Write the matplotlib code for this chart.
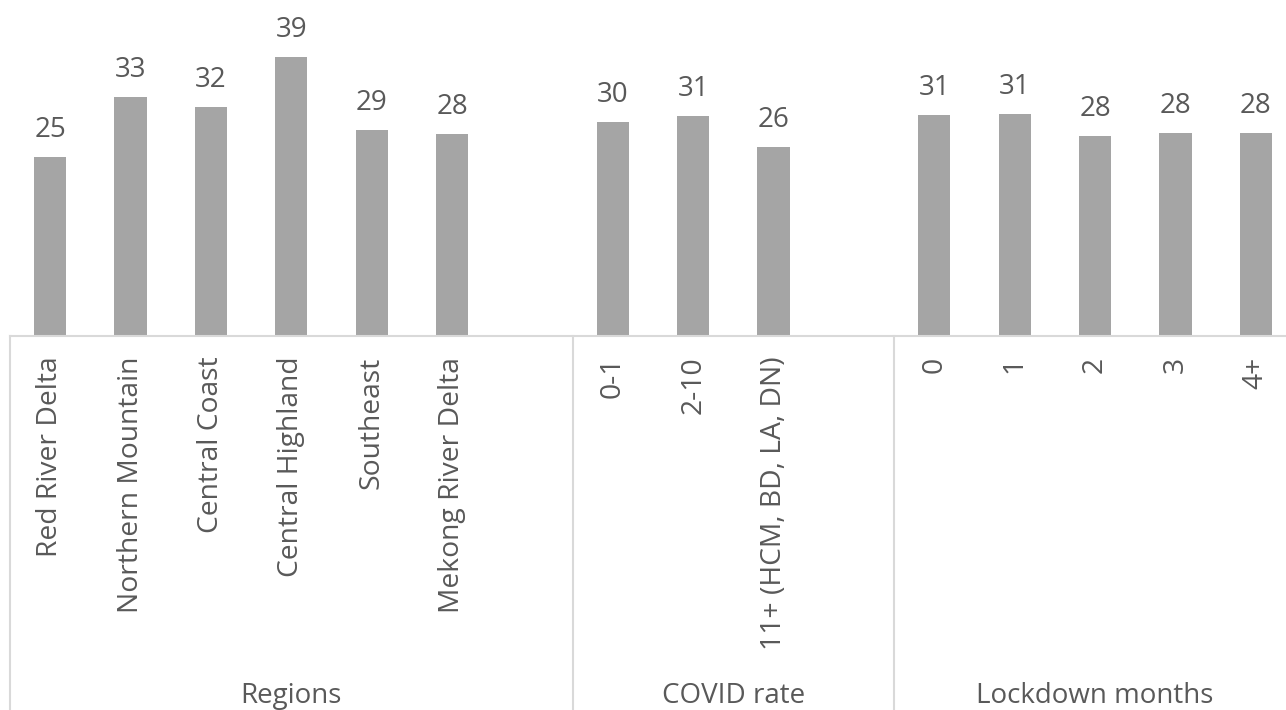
import matplotlib.pyplot as plt

# ==========================================
# Data
# ==========================================

regions = ["Red River Delta", "Northern Mountain", "Central Coast",
           "Central Highland", "Southeast", "Mekong River Delta"]
region_values = [25.0, 33.4, 32.0, 39.0, 28.8, 28.2]

covid_rates = ["0-1", "2-10", "11+ (HCM, BD, LA, DN)"]
covid_values = [29.9, 30.7, 26.4]

lockdown_months = ["0", "1", "2", "3", "4+"]
lockdown_values = [30.9, 31.0, 28.0, 28.3, 28.4]

group_names = ["Regions", "COVID rate", "Lockdown months"]

# ==========================================
# Layout: every group gets its own run of slots,
# Regions and COVID rate keep one empty slot at the end
# ==========================================

groups = [
    (regions, region_values, 7),
    (covid_rates, covid_values, 4),
    (lockdown_months, lockdown_values, 5),
]

BAR_COLOR = "#A5A5A5"
TEXT_COLOR = "#595959"
LINE_COLOR = "#D9D9D9"

LABEL_FONT = ["Liberation Sans Narrow", "Open Sans", "DejaVu Sans"]
TICK_FONT = ["Open Sans", "DejaVu Sans"]

fig = plt.figure(figsize=(12.86, 7.10), dpi=100)
ax = fig.add_axes([10 / 1286, 374 / 710, 1286 / 1286, 322 / 710])

total_slots = sum(n for _, _, n in groups)
ax.set_xlim(-0.5, total_slots - 0.5)
ax.set_ylim(0, 45)
ax.axis("off")

start = 0
boundaries = [-0.5]
for (labels, values, n_slots), gname in zip(groups, group_names):
    xs = [start + i for i in range(len(values))]
    ax.bar(xs, values, width=0.4, color=BAR_COLOR, zorder=2)

    # value labels above bars
    for x, v in zip(xs, values):
        ax.annotate(f"{v:.0f}", xy=(x, v), xytext=(0, 14.4),
                    textcoords="offset points", ha="center", va="baseline",
                    fontsize=20, color=TEXT_COLOR, family=LABEL_FONT)

    # rotated category labels
    for x, lab in zip(xs, labels):
        ax.annotate(lab, xy=(x, 0), xytext=(0, -15),
                    textcoords="offset points", ha="center", va="top",
                    rotation=90, fontsize=20.3, color=TEXT_COLOR,
                    family=TICK_FONT)

    # group label
    center = start - 0.5 + n_slots / 2
    ax.annotate(gname, xy=(center, 0), xytext=(0, -264),
                textcoords="offset points", ha="center", va="baseline",
                fontsize=20, color=TEXT_COLOR, family=LABEL_FONT)

    start += n_slots
    boundaries.append(start - 0.5)

# ==========================================
# Category axis lines
# ==========================================

trans = ax.get_xaxis_transform()
ax.plot([-0.5, total_slots - 0.5], [0, 0], transform=trans,
        color=LINE_COLOR, lw=1.5, clip_on=False, zorder=3)
for b in boundaries:
    ax.plot([b, b], [0, -1.3], transform=trans,
            color=LINE_COLOR, lw=1.5, clip_on=False, zorder=1)

fig.savefig("out.png", dpi=100)
